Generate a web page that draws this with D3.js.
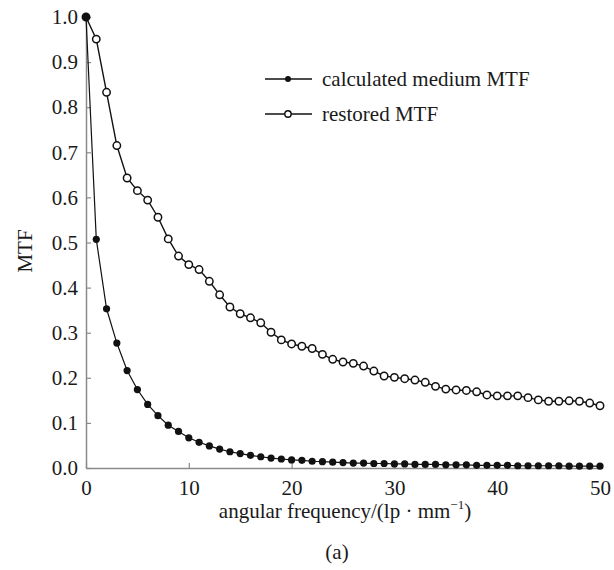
<!DOCTYPE html>
<html><head><meta charset="utf-8">
<script src="https://cdn.jsdelivr.net/npm/d3@7"></script>
<style>body{margin:0;background:#fff}svg{display:block}svg text{font-family:"Liberation Serif","Times New Roman",serif !important;fill:#1a1a1a}</style>
</head><body><svg id="c" width="614" height="570"></svg>
<script>
const freq = d3.range(0, 51);
const calculated = [1.0,0.507,0.353,0.277,0.216,0.174,0.141,0.116,0.095,0.081,0.067,0.057,0.049,0.042,0.036,0.032,0.028,0.025,0.022,0.020,0.018,0.017,0.015,0.014,0.013,0.012,0.011,0.011,0.010,0.010,0.009,0.009,0.008,0.008,0.008,0.007,0.007,0.007,0.006,0.006,0.006,0.006,0.005,0.005,0.005,0.005,0.005,0.004,0.004,0.004,0.004];
const restored = [1.0,0.951,0.833,0.715,0.643,0.615,0.594,0.556,0.508,0.470,0.451,0.440,0.414,0.384,0.357,0.342,0.333,0.322,0.301,0.284,0.275,0.270,0.265,0.252,0.241,0.235,0.232,0.226,0.215,0.204,0.201,0.198,0.195,0.190,0.181,0.175,0.173,0.172,0.169,0.162,0.160,0.160,0.160,0.156,0.151,0.148,0.148,0.149,0.148,0.144,0.138];
const xTicks = [0,10,20,30,40,50];
const yTicks = [0,0.1,0.2,0.3,0.4,0.5,0.6,0.7,0.8,0.9,1.0];
const legendLabels = ["calculated medium MTF","restored MTF"];

const FONT = '"Liberation Serif","Times New Roman",serif';
const FS = "21px";
const svg = d3.select("#c");
const x = d3.scaleLinear().domain([0,50]).range([86,600]);
const y = d3.scaleLinear().domain([0,1]).range([468,17]);

const axisColor = "#8a8a8a";
const gx = svg.append("g").attr("transform","translate(0,468)")
  .call(d3.axisBottom(x).tickValues(xTicks).tickFormat(d3.format("d")).tickSizeInner(-5).tickSizeOuter(0).tickPadding(12));
const gy = svg.append("g").attr("transform","translate(86,0)")
  .call(d3.axisLeft(y).tickValues(yTicks).tickFormat(d3.format(".1f")).tickSizeInner(-5).tickSizeOuter(0).tickPadding(8));
[gx,gy].forEach(g=>{
  g.attr("font-family",FONT).attr("font-size",21);
  g.select(".domain").attr("stroke",axisColor).attr("stroke-width",1.5);
  g.selectAll(".tick line").attr("stroke",axisColor).attr("stroke-width",1.2);
  g.selectAll(".tick text").style("font-family",FONT).style("font-size",FS).attr("fill","#1a1a1a");
});

const line = d3.line().x((d,i)=>x(freq[i])).y(d=>y(d));
svg.append("path").datum(restored).attr("d",line).attr("fill","none").attr("stroke","#111").attr("stroke-width",1.4);
svg.selectAll("circle.r").data(restored).join("circle").attr("class","r")
  .attr("cx",(d,i)=>x(freq[i])).attr("cy",d=>y(d)).attr("r",3.7)
  .attr("fill","#fff").attr("stroke","#111").attr("stroke-width",1.5);
svg.append("path").datum(calculated).attr("d",line).attr("fill","none").attr("stroke","#111").attr("stroke-width",1.2);
svg.selectAll("circle.c").data(calculated).join("circle").attr("class","c")
  .attr("cx",(d,i)=>x(freq[i])).attr("cy",d=>y(d)).attr("r",3.6).attr("fill","#111");

// legend
const lg = svg.append("g");
legendLabels.forEach((lab,i)=>{
  const yy = 79 + i*35;
  lg.append("line").attr("x1",265).attr("x2",312).attr("y1",yy).attr("y2",yy).attr("stroke","#111").attr("stroke-width",1.3);
  if(i===0) lg.append("circle").attr("cx",288).attr("cy",yy).attr("r",3).attr("fill","#111");
  else lg.append("circle").attr("cx",288).attr("cy",yy).attr("r",3.2).attr("fill","#fff").attr("stroke","#111").attr("stroke-width",1.4);
  lg.append("text").attr("x",322).attr("y",yy+7).style("font-family",FONT).style("font-size",FS).text(lab);
});

// axis titles
const xt = svg.append("text").attr("x",345).attr("y",518).attr("text-anchor","middle").style("font-family",FONT).style("font-size",FS);
xt.append("tspan").text("angular frequency/(lp · mm");
xt.append("tspan").style("font-size","13px").attr("dy",-9).text("−1");
xt.append("tspan").attr("dy",9).text(")");
svg.append("text").attr("transform","translate(32,251) rotate(-90)").attr("text-anchor","middle").style("font-family",FONT).style("font-size",FS).text("MTF");
svg.append("text").attr("x",337).attr("y",559).attr("text-anchor","middle").style("font-family",FONT).style("font-size",FS).text("(a)");
</script></body></html>
